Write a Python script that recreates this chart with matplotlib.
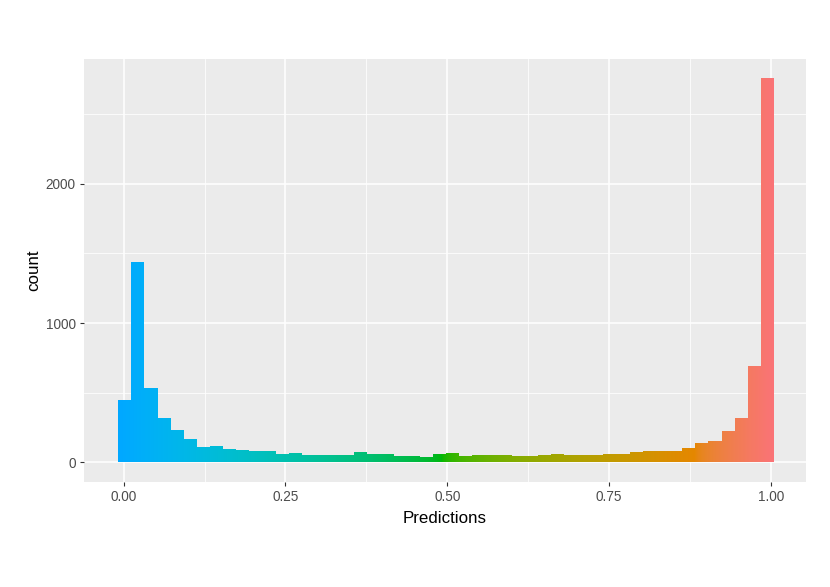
import matplotlib
matplotlib.use("Agg")
import matplotlib.pyplot as plt
import numpy as np
from matplotlib.path import Path

# comptes par classe (50 classes entre 0 et 1)
counts = [450, 1440, 535, 318, 235, 168, 112, 117, 98, 88,
          86, 86, 62, 70, 56, 56, 55, 56, 72, 60,
          58, 44, 45, 36, 58, 66, 47, 56, 56, 55,
          43, 43, 56, 63, 55, 54, 56, 62, 64, 72,
          82, 86, 80, 107, 138, 152, 228, 322, 690, 2755]
x_ticks = [0.0, 0.25, 0.5, 0.75, 1.0]
x_ticklabels = ["0.00", "0.25", "0.50", "0.75", "1.00"]
y_ticks = [0, 1000, 2000]
y_ticklabels = ["0", "1000", "2000"]

counts = np.array(counts)
edges = np.linspace(-0.0085, 1.005, len(counts) + 1)
centers = (edges[:-1] + edges[1:]) / 2
width = edges[1] - edges[0]


def hcl_to_rgb(h, c, l):
    # HCL (polar Luv) -> sRGB, comme hcl() de R
    h = np.radians(h)
    u = c * np.cos(h)
    v = c * np.sin(h)
    xn, yn, zn = 95.047, 100.0, 108.883
    un = 4 * xn / (xn + 15 * yn + 3 * zn)
    vn = 9 * yn / (xn + 15 * yn + 3 * zn)
    Y = yn * ((l + 16) / 116) ** 3 if l > 8 else yn * l / 903.3
    up = u / (13 * l) + un
    vp = v / (13 * l) + vn
    X = Y * 9 * up / (4 * vp)
    Z = Y * (12 - 3 * up - 20 * vp) / (4 * vp)
    xyz = np.stack([X, np.full_like(X, Y), Z], axis=-1) / 100
    m = np.array([[3.2404542, -1.5371385, -0.4985314],
                  [-0.9692660, 1.8760108, 0.0415560],
                  [0.0556434, -0.2040259, 1.0572252]])
    rgb = xyz @ m.T
    rgb = np.where(rgb <= 0.0031308, 12.92 * rgb, 1.055 * np.abs(rgb) ** (1 / 2.4) - 0.055)
    return np.clip(rgb, 0, 1)


fig = plt.figure(figsize=(8.3, 5.87), dpi=100)
ax = fig.add_axes([0.1012, 0.1794, 0.8699, 0.7196])
ax.set_facecolor("#EBEBEB")
for s in ax.spines.values():
    s.set_visible(False)

# barres invisibles, puis dégradé découpé selon leur forme
bars = ax.bar(centers, counts, width=width, color="none", linewidth=0)
xs = np.linspace(edges[0], edges[-1], 800)
rgb = hcl_to_rgb(240 - 228 * xs, 100, 65)
im = ax.imshow(rgb[np.newaxis, :, :], extent=[edges[0], edges[-1], 0, counts.max()],
               aspect="auto", origin="lower", interpolation="bilinear", zorder=2)
paths = [b.get_path().transformed(b.get_patch_transform()) for b in bars]
im.set_clip_path(Path.make_compound_path(*paths), ax.transData)

ax.set_xlim(-0.0614, 1.0545)
ax.set_ylim(-137.75, 2892.75)

ax.set_xticks(x_ticks)
ax.set_xticklabels(x_ticklabels)
ax.set_yticks(y_ticks)
ax.set_yticklabels(y_ticklabels)
ax.set_xticks([0.125, 0.375, 0.625, 0.875], minor=True)
ax.set_yticks([500, 1500, 2500], minor=True)

ax.set_axisbelow(True)
ax.grid(which="major", color="white", linewidth=1.1)
ax.grid(which="minor", color="white", linewidth=0.55)
ax.tick_params(which="major", length=2.9, width=0.8, color="#333333",
               labelcolor="#4D4D4D", labelsize=9.8, pad=3)
ax.tick_params(which="minor", length=0)
for lab in ax.get_xticklabels() + ax.get_yticklabels():
    lab.set_family("Liberation Sans")

ax.set_xlabel("Predictions", fontsize=12.2, family="Liberation Sans", labelpad=5)
ax.set_ylabel("count", fontsize=12.2, family="Liberation Sans", labelpad=3)

fig.savefig("out.png", dpi=100, facecolor="white")
